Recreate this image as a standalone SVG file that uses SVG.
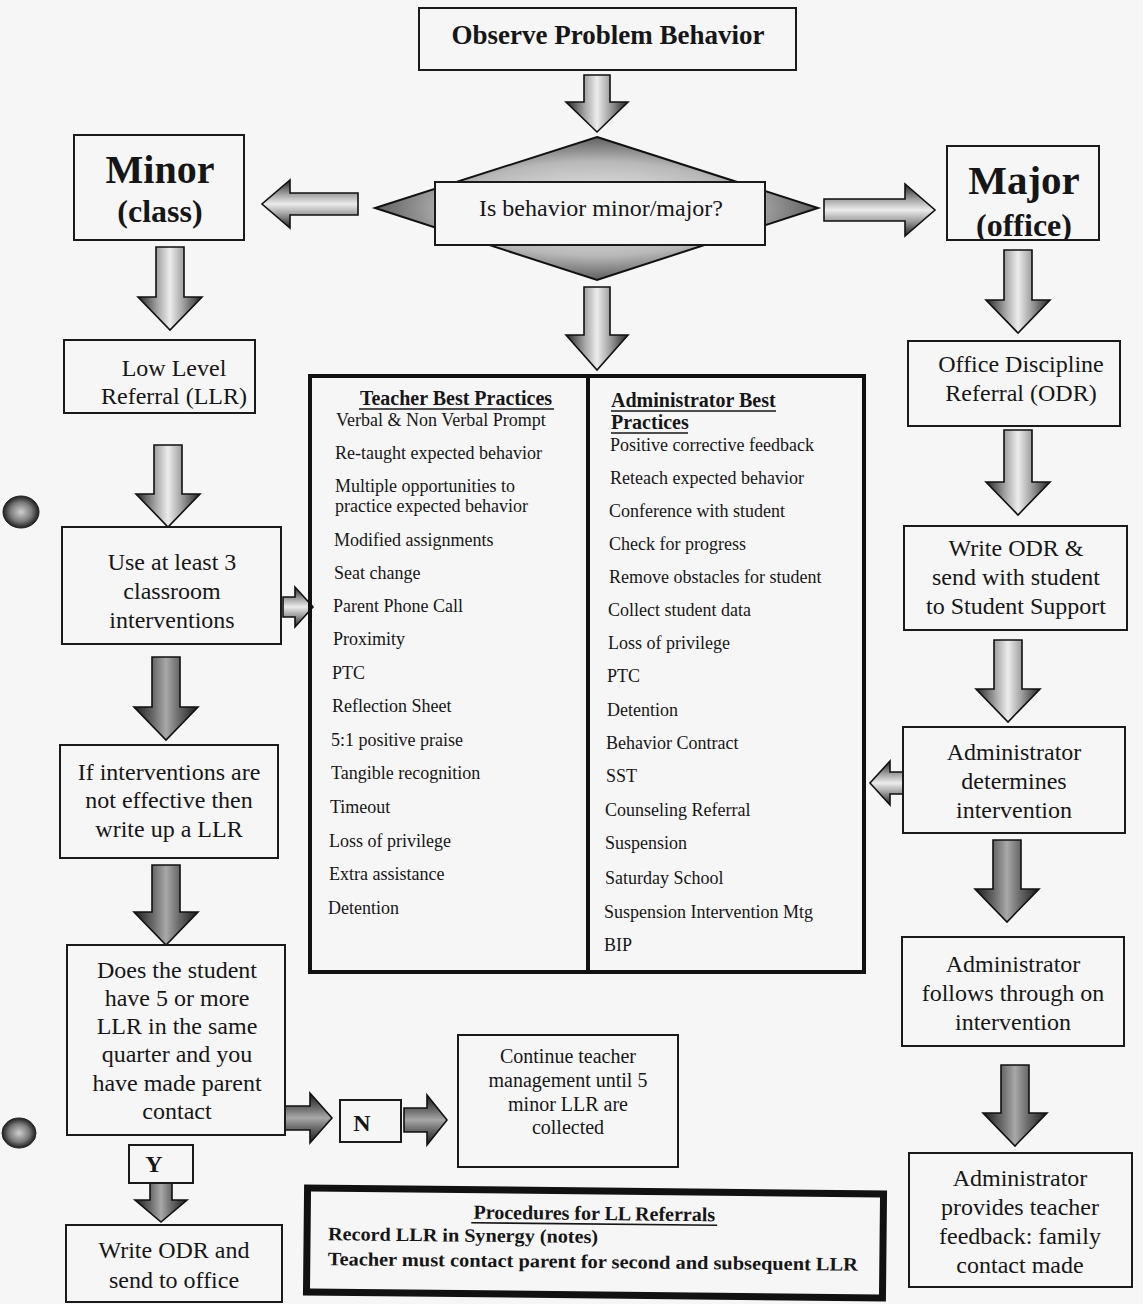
<svg xmlns="http://www.w3.org/2000/svg" width="1143" height="1304" viewBox="0 0 1143 1304">
<defs>
<style>
.t{font-family:"Liberation Serif","Times New Roman",serif;fill:#161616}
.b{font-weight:bold}
.box{fill:none;stroke:#1a1a1a;stroke-width:2}
.av{fill:url(#gv);stroke:#111;stroke-width:1.6;stroke-linejoin:miter}
.avd{fill:url(#gvd);stroke:#111;stroke-width:1.6}
.ah{fill:url(#gh);stroke:#111;stroke-width:1.6}
.ahd{fill:url(#ghd);stroke:#111;stroke-width:1.6}
.ul{stroke:#161616;stroke-width:1.6}
</style>
<linearGradient id="gv" x1="0" y1="0" x2="1" y2="0">
<stop offset="0" stop-color="#222"/><stop offset="0.3" stop-color="#a4a4a4"/><stop offset="0.5" stop-color="#ececec"/><stop offset="0.7" stop-color="#a4a4a4"/><stop offset="1" stop-color="#222"/>
</linearGradient>
<linearGradient id="gvd" x1="0" y1="0" x2="1" y2="0">
<stop offset="0" stop-color="#1a1a1a"/><stop offset="0.3" stop-color="#6a6a6a"/><stop offset="0.5" stop-color="#a8a8a8"/><stop offset="0.7" stop-color="#6a6a6a"/><stop offset="1" stop-color="#1a1a1a"/>
</linearGradient>
<linearGradient id="gh" x1="0" y1="0" x2="0" y2="1">
<stop offset="0" stop-color="#222"/><stop offset="0.3" stop-color="#a4a4a4"/><stop offset="0.5" stop-color="#ececec"/><stop offset="0.7" stop-color="#a4a4a4"/><stop offset="1" stop-color="#222"/>
</linearGradient>
<linearGradient id="ghd" x1="0" y1="0" x2="0" y2="1">
<stop offset="0" stop-color="#1a1a1a"/><stop offset="0.3" stop-color="#6a6a6a"/><stop offset="0.5" stop-color="#a8a8a8"/><stop offset="0.7" stop-color="#6a6a6a"/><stop offset="1" stop-color="#1a1a1a"/>
</linearGradient>
<radialGradient id="gd" cx="0.5" cy="0.5" r="0.6">
<stop offset="0" stop-color="#f2f2f2"/><stop offset="0.55" stop-color="#b8b8b8"/><stop offset="1" stop-color="#2a2a2a"/>
</radialGradient>
<radialGradient id="gp" cx="0.5" cy="0.5" r="0.5">
<stop offset="0" stop-color="#cfcfcf"/><stop offset="0.6" stop-color="#7a7a7a"/><stop offset="1" stop-color="#1e1e1e"/>
</radialGradient>
<clipPath id="majclip"><rect x="948" y="147" width="150" height="92"/></clipPath>
</defs>

<rect x="0" y="0" width="1143" height="1304" fill="#f6f6f6"/>

<g id="punch-holes">
<ellipse cx="21" cy="512" rx="18" ry="16" fill="url(#gp)" stroke="#222" stroke-width="1"/>
<ellipse cx="19" cy="1133" rx="17" ry="15" fill="url(#gp)" stroke="#222" stroke-width="1"/>
</g>

<g id="connectors">
<path class="av" d="M584,75 H610 V102 H628 L597,132 L566,102 H584 Z"/>
<path class="av" d="M584,287 H610 V335 H628 L597,370 L566,335 H584 Z"/>
<path class="av" d="M156,247 H184 V297 H202 L170,330 L138,297 H156 Z"/>
<path class="av" d="M154,445 H182 V494 H200 L168,527 L136,494 H154 Z"/>
<path class="avd" d="M152,657 H180 V707 H198 L166,740 L134,707 H152 Z"/>
<path class="avd" d="M152,865 H180 V912 H198 L166,945 L134,912 H152 Z"/>
<path class="avd" d="M150,1183 H172 V1200 H187 L161,1222 L135,1200 H150 Z"/>
<path class="av" d="M1004,250 H1032 V300 H1050 L1018,333 L986,300 H1004 Z"/>
<path class="av" d="M1004,430 H1032 V482 H1050 L1018,515 L986,482 H1004 Z"/>
<path class="av" d="M994,640 H1022 V689 H1040 L1008,722 L976,689 H994 Z"/>
<path class="avd" d="M993,840 H1021 V889 H1039 L1007,922 L975,889 H993 Z"/>
<path class="avd" d="M1001,1065 H1029 V1113 H1047 L1015,1146 L983,1113 H1001 Z"/>
<path class="ah" d="M358,193 V215 H290 V228 L262,204 L290,180 V193 Z"/>
<path class="ah" d="M824,199 V221 H905 V236 L935,210 L905,184 V199 Z"/>
<path class="ah" d="M283,597 V617 H295 V627 L313,607 L295,587 V597 Z"/>
<path class="ah" d="M903,772 V794 H890 V805 L870,783 L890,761 V772 Z"/>
<path class="ahd" d="M285,1106 V1130 H310 V1143 L332,1118 L310,1093 V1106 Z"/>
<path class="ahd" d="M404,1108 V1132 H427 V1145 L447,1120 L427,1095 V1108 Z"/>
</g>

<g id="n-observe">
<rect class="box" x="419" y="8" width="377" height="62"/>
<text class="t b" x="608" y="44" font-size="27" text-anchor="middle">Observe Problem Behavior</text>
</g>

<g id="n-decision">
<polygon points="597,137 818,208 597,280 375,208" fill="url(#gd)" stroke="#111" stroke-width="2"/>
<rect x="435" y="182" width="330" height="63" fill="#f6f6f6" stroke="#1a1a1a" stroke-width="2"/>
<text class="t" x="601" y="216" font-size="24" text-anchor="middle">Is behavior minor/major?</text>
</g>

<g id="n-minor">
<rect class="box" x="74" y="135" width="170" height="105"/>
<text class="t b" x="160" y="183" font-size="40" text-anchor="middle">Minor</text>
<text class="t b" x="160" y="222" font-size="32" text-anchor="middle">(class)</text>
</g>

<g id="n-major">
<rect class="box" x="947" y="146" width="152" height="94"/>
<text class="t b" x="1024" y="194" font-size="41" text-anchor="middle">Major</text>
<text class="t b" x="1024" y="236" font-size="32" text-anchor="middle" clip-path="url(#majclip)">(office)</text>
</g>

<g id="n-llr">
<rect class="box" x="64" y="340" width="191" height="73"/>
<text class="t" x="174" y="376" font-size="24" text-anchor="middle">Low Level</text>
<text class="t" x="174" y="404" font-size="24" text-anchor="middle">Referral (LLR)</text>
</g>

<g id="n-use3">
<rect class="box" x="62" y="527" width="219" height="117"/>
<text class="t" x="172" y="570" font-size="24" text-anchor="middle">Use at least 3</text>
<text class="t" x="172" y="599" font-size="24" text-anchor="middle">classroom</text>
<text class="t" x="172" y="628" font-size="24" text-anchor="middle">interventions</text>
</g>

<g id="n-ifnot">
<rect class="box" x="60" y="745" width="218" height="113"/>
<text class="t" x="169" y="780" font-size="24" text-anchor="middle">If interventions are</text>
<text class="t" x="169" y="808" font-size="24" text-anchor="middle">not effective then</text>
<text class="t" x="169" y="837" font-size="24" text-anchor="middle">write up a LLR</text>
</g>

<g id="n-does">
<rect class="box" x="67" y="945" width="218" height="190"/>
<text class="t" x="177" y="978" font-size="24" text-anchor="middle">Does the student</text>
<text class="t" x="177" y="1006" font-size="24" text-anchor="middle">have 5 or more</text>
<text class="t" x="177" y="1034" font-size="24" text-anchor="middle">LLR in the same</text>
<text class="t" x="177" y="1062" font-size="24" text-anchor="middle">quarter and you</text>
<text class="t" x="177" y="1091" font-size="24" text-anchor="middle">have made parent</text>
<text class="t" x="177" y="1119" font-size="24" text-anchor="middle">contact</text>
</g>

<g id="n-y">
<rect class="box" x="129" y="1145" width="64" height="38"/>
<text class="t b" x="154" y="1172" font-size="24" text-anchor="middle">Y</text>
</g>

<g id="n-writeodr-office">
<rect class="box" x="66" y="1225" width="216" height="77"/>
<text class="t" x="174" y="1258" font-size="24" text-anchor="middle">Write ODR and</text>
<text class="t" x="174" y="1288" font-size="24" text-anchor="middle">send to office</text>
</g>

<g id="n-n">
<rect class="box" x="340" y="1100" width="61" height="42"/>
<text class="t b" x="362" y="1131" font-size="24" text-anchor="middle">N</text>
</g>

<g id="n-continue">
<rect class="box" x="458" y="1035" width="220" height="132"/>
<text class="t" x="568" y="1063" font-size="20" text-anchor="middle">Continue teacher</text>
<text class="t" x="568" y="1087" font-size="20" text-anchor="middle">management until 5</text>
<text class="t" x="568" y="1111" font-size="20" text-anchor="middle">minor LLR are</text>
<text class="t" x="568" y="1134" font-size="20" text-anchor="middle">collected</text>
</g>

<g id="n-procedures" transform="rotate(0.6 594 1244)">
<rect x="307" y="1191" width="576" height="104" fill="none" stroke="#111" stroke-width="7"/>
<text class="t b" x="594" y="1220" font-size="20" text-anchor="middle">Procedures for LL Referrals</text>
<line class="ul" x1="471" y1="1224" x2="717" y2="1224"/>
<text class="t b" x="328" y="1243" font-size="19" textLength="270" lengthAdjust="spacingAndGlyphs">Record LLR in Synergy (notes)</text>
<text class="t b" x="328" y="1268" font-size="19" textLength="530" lengthAdjust="spacingAndGlyphs">Teacher must contact parent for second and subsequent LLR</text>
</g>

<g id="n-practices">
<rect x="310" y="376" width="554" height="596" fill="none" stroke="#111" stroke-width="4"/>
<line x1="588" y1="376" x2="588" y2="972" stroke="#111" stroke-width="4"/>
<text class="t b" x="456" y="405" font-size="20" text-anchor="middle">Teacher Best Practices</text>
<line class="ul" x1="359" y1="409" x2="554" y2="409"/>
<g class="t" font-size="18">
<text x="336" y="426">Verbal &amp; Non Verbal Prompt</text>
<text x="335" y="459">Re-taught expected behavior</text>
<text x="335" y="492">Multiple opportunities to</text>
<text x="335" y="512">practice expected behavior</text>
<text x="334" y="546">Modified assignments</text>
<text x="334" y="579">Seat change</text>
<text x="333" y="612">Parent Phone Call</text>
<text x="333" y="645">Proximity</text>
<text x="332" y="679">PTC</text>
<text x="332" y="712">Reflection Sheet</text>
<text x="331" y="746">5:1 positive praise</text>
<text x="331" y="779">Tangible recognition</text>
<text x="330" y="813">Timeout</text>
<text x="329" y="847">Loss of privilege</text>
<text x="329" y="880">Extra assistance</text>
<text x="328" y="914">Detention</text>
</g>
<text class="t b" x="611" y="407" font-size="20">Administrator Best</text>
<line class="ul" x1="611" y1="411" x2="776" y2="411"/>
<text class="t b" x="611" y="429" font-size="20">Practices</text>
<line class="ul" x1="611" y1="433" x2="688" y2="433"/>
<g class="t" font-size="18">
<text x="610" y="451">Positive corrective feedback</text>
<text x="610" y="484">Reteach expected behavior</text>
<text x="609" y="517">Conference with student</text>
<text x="609" y="550">Check for progress</text>
<text x="609" y="583">Remove obstacles for student</text>
<text x="608" y="616">Collect student data</text>
<text x="608" y="649">Loss of privilege</text>
<text x="607" y="682">PTC</text>
<text x="607" y="716">Detention</text>
<text x="606" y="749">Behavior Contract</text>
<text x="606" y="782">SST</text>
<text x="605" y="816">Counseling Referral</text>
<text x="605" y="849">Suspension</text>
<text x="605" y="884">Saturday School</text>
<text x="604" y="918">Suspension Intervention Mtg</text>
<text x="604" y="951">BIP</text>
</g>
</g>

<g id="n-odr">
<rect class="box" x="908" y="341" width="212" height="85"/>
<text class="t" x="1021" y="372" font-size="24" text-anchor="middle">Office Discipline</text>
<text class="t" x="1021" y="401" font-size="24" text-anchor="middle">Referral (ODR)</text>
</g>

<g id="n-write-odr">
<rect class="box" x="904" y="526" width="223" height="104"/>
<text class="t" x="1016" y="556" font-size="24" text-anchor="middle">Write ODR &amp;</text>
<text class="t" x="1016" y="585" font-size="24" text-anchor="middle">send with student</text>
<text class="t" x="1016" y="614" font-size="24" text-anchor="middle">to Student Support</text>
</g>

<g id="n-admin-determines">
<rect class="box" x="903" y="727" width="222" height="106"/>
<text class="t" x="1014" y="760" font-size="24" text-anchor="middle">Administrator</text>
<text class="t" x="1014" y="789" font-size="24" text-anchor="middle">determines</text>
<text class="t" x="1014" y="818" font-size="24" text-anchor="middle">intervention</text>
</g>

<g id="n-admin-follows">
<rect class="box" x="902" y="937" width="222" height="109"/>
<text class="t" x="1013" y="972" font-size="24" text-anchor="middle">Administrator</text>
<text class="t" x="1013" y="1001" font-size="24" text-anchor="middle">follows through on</text>
<text class="t" x="1013" y="1030" font-size="24" text-anchor="middle">intervention</text>
</g>

<g id="n-admin-feedback">
<rect class="box" x="909" y="1153" width="223" height="134"/>
<text class="t" x="1020" y="1186" font-size="24" text-anchor="middle">Administrator</text>
<text class="t" x="1020" y="1215" font-size="24" text-anchor="middle">provides teacher</text>
<text class="t" x="1020" y="1244" font-size="24" text-anchor="middle">feedback: family</text>
<text class="t" x="1020" y="1273" font-size="24" text-anchor="middle">contact made</text>
</g>
</svg>
